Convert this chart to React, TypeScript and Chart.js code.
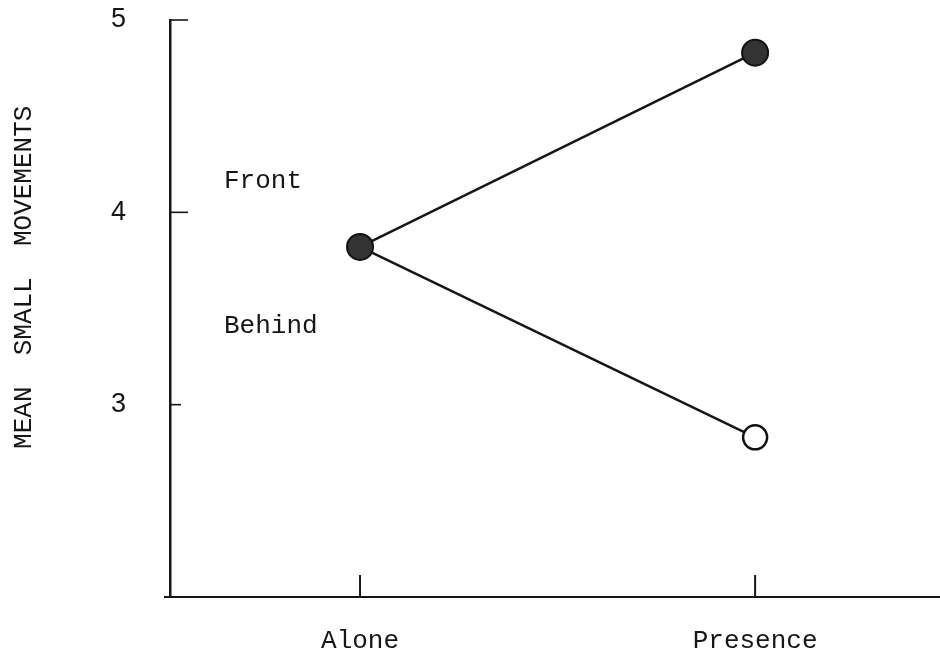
import { useEffect, useRef } from 'react';
import { Chart, registerables } from 'chart.js';

Chart.register(...registerables);

// Conditions on the x axis and mean values for each seating group
const conditions = ['Alone', 'Presence'];
const frontValues = [3.82, 4.83];
const behindValues = [3.82, 2.83];
const yTicks = [3, 4, 5];
const seriesNames = ['Front', 'Behind'];
// where each group name sits, in y-axis units
const seriesLabelLevels = [4.16, 3.41];
const yTitle = 'MEAN  SMALL  MOVEMENTS';

const INK = '#161616';
const MONO = '"Liberation Mono", "Courier New", monospace';
const SANS = '"Liberation Sans", Arial, sans-serif';

export default function App() {
  const ref = useRef<HTMLCanvasElement>(null);

  useEffect(() => {
    const canvas = ref.current;
    if (!canvas) return;

    const toPoints = (vals: number[]) => vals.map((v, i) => ({ x: i, y: v }));

    // Inward tick marks on both axes plus the group names beside the lines
    const axisMarks = {
      id: 'axisMarks',
      afterDraw(chart: any) {
        const { ctx, chartArea, scales } = chart;
        const x = scales.x;
        const y = scales.y;
        ctx.save();
        ctx.strokeStyle = INK;
        ctx.lineWidth = 2;
        // small stub of the x axis running past the y axis
        ctx.beginPath();
        ctx.moveTo(chartArea.left - 6, chartArea.bottom);
        ctx.lineTo(chartArea.left, chartArea.bottom);
        ctx.stroke();
        conditions.forEach((_, i) => {
          const px = x.getPixelForValue(i);
          ctx.beginPath();
          ctx.moveTo(px, chartArea.bottom);
          ctx.lineTo(px, chartArea.bottom - 22);
          ctx.stroke();
        });
        ctx.lineWidth = 1.6;
        yTicks.forEach((v) => {
          const py = y.getPixelForValue(v);
          ctx.beginPath();
          ctx.moveTo(chartArea.left, py);
          ctx.lineTo(chartArea.left + (v === 3 ? 11 : 18), py);
          ctx.stroke();
        });
        ctx.fillStyle = INK;
        ctx.font = `26px ${MONO}`;
        ctx.textAlign = 'left';
        ctx.textBaseline = 'middle';
        seriesNames.forEach((name, i) => {
          ctx.fillText(name, chartArea.left + 54, y.getPixelForValue(seriesLabelLevels[i]));
        });
        ctx.restore();
      },
    };

    const chart = new Chart(canvas, {
      type: 'line',
      data: {
        datasets: [
          {
            label: seriesNames[0],
            data: toPoints(frontValues),
            borderColor: INK,
            borderWidth: 2.5,
            pointRadius: 13,
            pointBackgroundColor: '#333',
            pointBorderColor: '#111',
            pointBorderWidth: 2,
            clip: false,
          },
          {
            label: seriesNames[1],
            data: toPoints(behindValues),
            borderColor: INK,
            borderWidth: 2.5,
            pointRadius: 12,
            pointBackgroundColor: ['#333', '#ffffff'],
            pointBorderColor: '#111',
            pointBorderWidth: 2.5,
            clip: false,
          },
        ],
      },
      options: {
        animation: false,
        responsive: false,
        layout: { autoPadding: false, padding: { top: 20, right: 0, bottom: 0, left: 0 } },
        plugins: { legend: { display: false }, tooltip: { enabled: false } },
        scales: {
          x: {
            type: 'linear',
            min: -0.481,
            max: 1.468,
            afterBuildTicks: (s: any) => {
              s.ticks = conditions.map((_, i) => ({ value: i }));
            },
            afterFit: (s: any) => {
              s.height = 59;
              s.paddingLeft = 0;
              s.paddingRight = 0;
            },
            grid: { display: false, drawTicks: false },
            border: { display: true, color: INK, width: 2 },
            ticks: {
              callback: (v: any) => conditions[v as number] ?? '',
              font: { family: MONO, size: 26 },
              color: INK,
              padding: 29,
              maxRotation: 0,
              autoSkip: false,
            },
          },
          y: {
            type: 'linear',
            min: 2,
            max: 5,
            afterBuildTicks: (s: any) => {
              s.ticks = yTicks.map((v) => ({ value: v }));
            },
            afterFit: (s: any) => {
              s.width = 170;
              s.paddingTop = 0;
              s.paddingBottom = 0;
            },
            grid: { display: false, drawTicks: false },
            border: { display: true, color: INK, width: 2.5 },
            ticks: {
              font: { family: SANS, size: 27 },
              color: INK,
              padding: 44,
            },
            title: {
              display: true,
              text: '    ' + yTitle,
              font: { family: MONO, size: 26 },
              color: INK,
              padding: { top: 9, bottom: 0 },
            },
          },
        },
      },
      plugins: [axisMarks],
    });

    return () => chart.destroy();
  }, []);

  return (
    <div style={{ position: 'absolute', left: 0, top: 0, width: 940, height: 656, background: '#fff' }}>
      <canvas ref={ref} width={940} height={656} style={{ display: 'block' }} />
    </div>
  );
}
